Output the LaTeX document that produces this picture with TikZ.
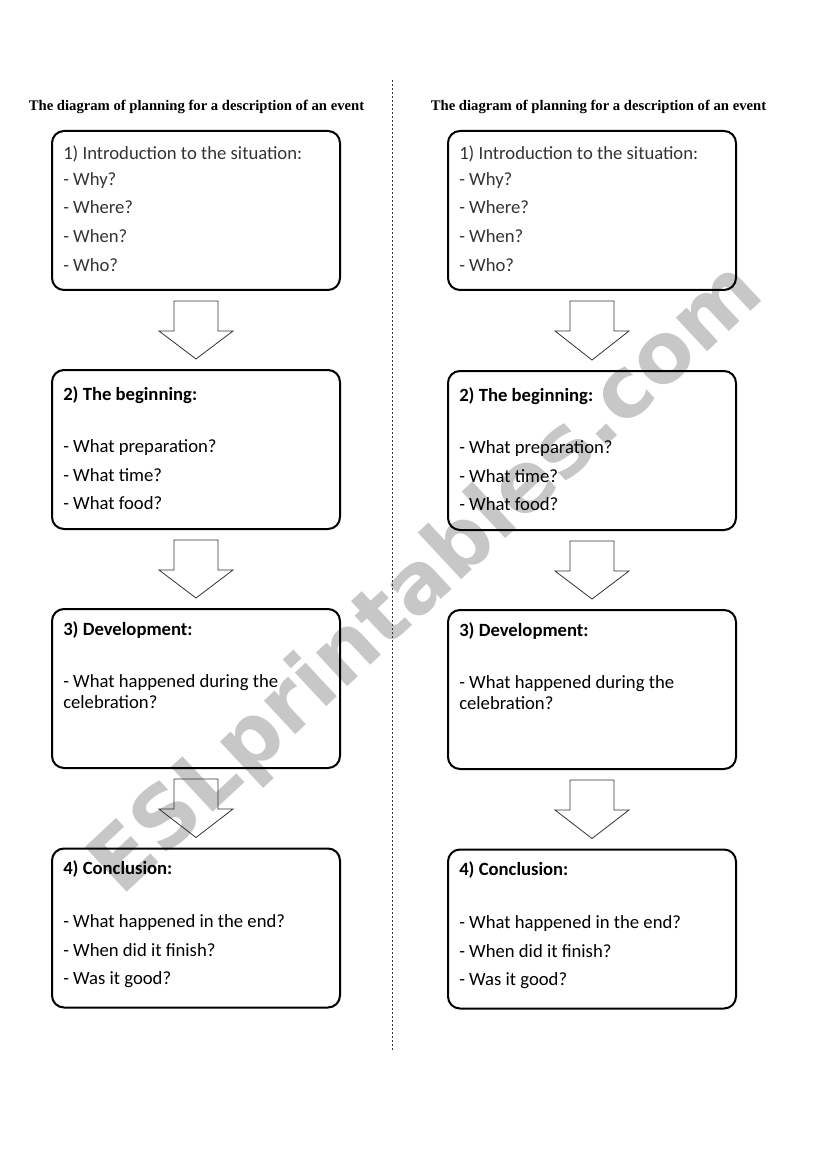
\documentclass[tikz,border=0pt]{standalone}
\usepackage{fontspec}
\setmainfont{Carlito}
\newfontfamily\titlefont{Liberation Serif}
\newfontfamily\wmfont{DejaVu Sans}
\usetikzlibrary{calc}
\tikzset{
  flowbox/.style={draw, line width=1.5pt, rounded corners=9pt, minimum width=216pt, minimum height=119.25pt, inner sep=0pt},
  txt/.style={anchor=base west, inner sep=0pt, font=\fontsize{14}{17}\selectfont},
  lighttxt/.style={txt, text=black!80},
  head/.style={anchor=base west, inner sep=0pt, font=\fontsize{14}{17}\selectfont\bfseries},
  ttl/.style={anchor=base, inner sep=0pt, font=\titlefont\bfseries\fontsize{11}{13}\selectfont},
  blockarrow/.style={draw=black!80, line width=0.6pt, line join=miter},
  divider/.style={line width=0.6pt, dash pattern=on 1.5pt off 1.5pt, draw=black!80},
  watermark/.style={rotate=43, text=black!22, inner sep=0pt, font=\wmfont\bfseries\fontsize{63}{63}\selectfont}
}
\begin{document}
\begin{tikzpicture}[x=0.75pt, y=-0.75pt]
\useasboundingbox (0,0) rectangle (821,1169);
% watermark behind everything
\node[watermark] (wm) at (428,580) {ESLprintables.com};
% divider
\coordinate (dtop) at (392,80);
\coordinate (dbot) at (392,1052);
\draw[divider] (dtop) -- (dbot);
\foreach \c/\cx/\dy/\tx in {L/196/0/196.5, R/592/1/598.5} {
  \node[ttl] (\c t) at (\tx,110.5) {The diagram of planning for a description of an event};
  \node[flowbox] (\c1) at (\cx,210.5) {};
  \node[flowbox] (\c2) at (\cx,449.5+\dy) {};
  \node[flowbox] (\c3) at (\cx,688.5+\dy) {};
  \node[flowbox] (\c4) at (\cx,928+\dy) {};
  % box 1
  \node[lighttxt] (\c1a) at (\cx-133,160) {1) Introduction to the situation:};
  \node[lighttxt] (\c1b) at (\cx-133,186) {- Why?};
  \node[lighttxt] (\c1c) at (\cx-133,214) {- Where?};
  \node[lighttxt] (\c1d) at (\cx-133,243) {- When?};
  \node[lighttxt] (\c1e) at (\cx-133,272) {- Who?};
  % box 2
  \node[head] (\c2a) at (\cx-133,400+\dy) {2) The beginning:};
  \node[txt] (\c2b) at (\cx-133,452+\dy) {- What preparation?};
  \node[txt] (\c2c) at (\cx-133,481+\dy) {- What time?};
  \node[txt] (\c2d) at (\cx-133,509+\dy) {- What food?};
  % box 3
  \node[head] (\c3a) at (\cx-133,635+\dy) {3) Development:};
  \node[txt] (\c3b) at (\cx-133,687+\dy) {- What happened during the};
  \node[txt] (\c3c) at (\cx-133,708+\dy) {celebration?};
  % box 4
  \node[head] (\c4a) at (\cx-133,874+\dy) {4) Conclusion:};
  \node[txt] (\c4b) at (\cx-133,927+\dy) {- What happened in the end?};
  \node[txt] (\c4c) at (\cx-133,956+\dy) {- When did it finish?};
  \node[txt] (\c4d) at (\cx-133,984+\dy) {- Was it good?};
  % block arrows
  \foreach \a/\b in {1/2, 2/3, 3/4} {
    \draw[blockarrow]
      ($(\c\a.south)+(-22,10)$) -- ($(\c\a.south)+(22,10)$) -- ($(\c\a.south)+(22,40)$)
      -- ($(\c\a.south)+(37,40)$) -- ($(\c\b.north)+(0,-10)$) -- ($(\c\a.south)+(-37,40)$)
      -- ($(\c\a.south)+(-22,40)$) -- cycle;
  }
}
\end{tikzpicture}
\end{document}
